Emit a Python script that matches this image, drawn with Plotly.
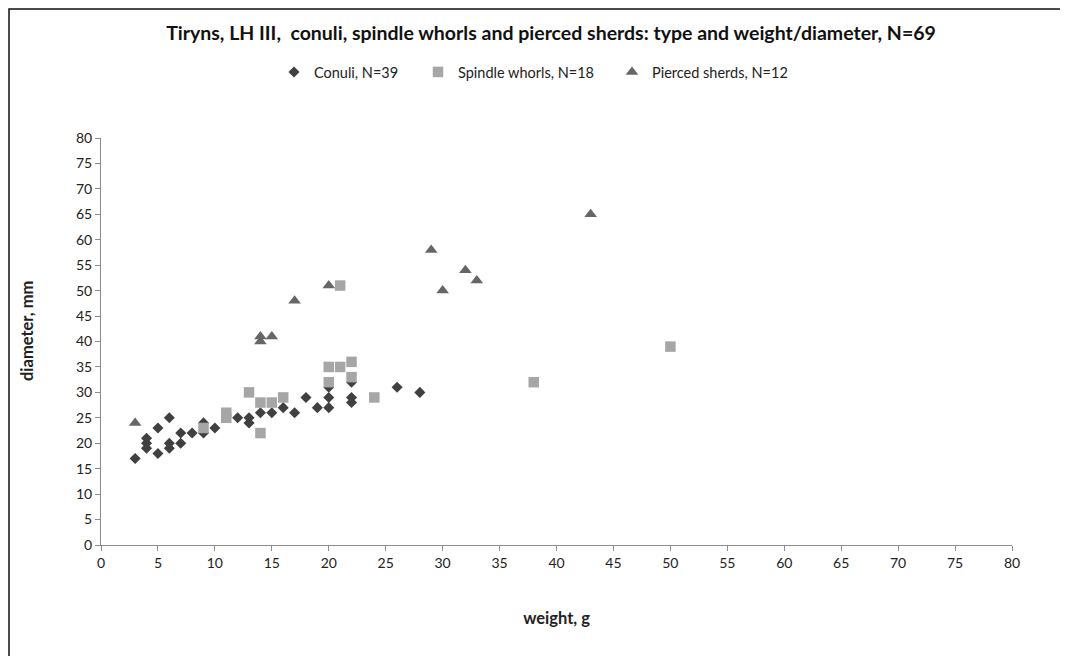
import plotly.graph_objects as go

# Conuli (diamonds)
conuli_w = [3, 4, 4, 4, 5, 5, 6, 6, 6, 7, 7, 8, 9, 9, 10, 12, 13, 13, 14, 15, 16, 17, 18, 19, 20, 20, 20, 22, 22, 22, 26, 28]
conuli_d = [17, 19, 20, 21, 18, 23, 19, 20, 25, 20, 22, 22, 22, 24, 23, 25, 24, 25, 26, 26, 27, 26, 29, 27, 27, 29, 31, 28, 29, 32, 31, 30]

# Spindle whorls (squares)
spindle_w = [9, 11, 11, 13, 14, 14, 15, 16, 20, 20, 21, 21, 22, 22, 24, 38, 50]
spindle_d = [23, 25, 26, 30, 22, 28, 28, 29, 32, 35, 35, 51, 33, 36, 29, 32, 39]

# Pierced sherds (triangles)
pierced_w = [3, 14, 14, 15, 17, 20, 29, 30, 32, 33, 43]
pierced_d = [24, 40, 41, 41, 48, 51, 58, 50, 54, 52, 65]

FONT = "Lato"
OFF = 8  # page body offset

W, H = 1068 - OFF, 656 - OFF
L, T = 101 - OFF, 138 - OFF
pw, ph = 911, 407
R, B = W - L - pw, H - T - ph

def px_x(p):
    return (p - OFF - L) / pw

def px_y(p):
    return (T + ph - (p - OFF)) / ph

fig = go.Figure()
fig.add_trace(go.Scatter(x=conuli_w, y=conuli_d, mode="markers", name="Conuli, N=39", legend="legend",
                         marker=dict(symbol="diamond", size=8.5, color="#404040")))
fig.add_trace(go.Scatter(x=spindle_w, y=spindle_d, mode="markers", name="Spindle whorls, N=18", legend="legend2",
                         marker=dict(symbol="square", size=10.5, color="#a6a6a6")))
fig.add_trace(go.Scatter(x=pierced_w, y=pierced_d, mode="markers", name="Pierced sherds, N=12", legend="legend3",
                         marker=dict(symbol="triangle-up", size=11, color="#666666")))

axis_common = dict(showgrid=False, zeroline=False, showline=True, linecolor="#8c8c8c", linewidth=1,
                   ticks="outside", ticklen=5, tickcolor="#8c8c8c",
                   tickfont=dict(family=FONT, size=14, color="#222"), dtick=5)

def leg(xpx):
    return dict(orientation="h", x=px_x(xpx), xanchor="left", y=px_y(72), yanchor="middle",
                font=dict(family=FONT, size=14.5, color="#222"), itemwidth=30,
                bgcolor="rgba(0,0,0,0)", borderwidth=0)

fig.update_layout(
    width=W, height=H,
    margin=dict(l=L, r=R, t=T, b=B),
    paper_bgcolor="white", plot_bgcolor="white",
    font=dict(family=FONT, color="#222"),
    title=dict(text="<b>Tiryns, LH III,\u00a0 conuli, spindle whorls and pierced sherds: type and weight/diameter, N=69</b>",
               x=px_x(551), xref="paper", xanchor="center", y=1 - (33 - OFF) / H, yanchor="middle",
               font=dict(family=FONT, size=19.5, color="#111")),
    legend=leg(274),
    legend2=leg(418),
    legend3=leg(612),
    xaxis=dict(range=[0, 80], title=dict(text="<b>weight, g</b>", font=dict(family=FONT, size=16.5, color="#222"), standoff=42),
               **axis_common),
    yaxis=dict(range=[0, 80], **axis_common),
    annotations=[dict(text="<b>diameter, mm</b>", xref="paper", yref="paper", x=px_x(27), y=px_y(331),
                      xanchor="center", yanchor="middle", textangle=-90, showarrow=False,
                      font=dict(family=FONT, size=16.5, color="#222"))],
    showlegend=True,
    shapes=[dict(type="rect", xref="paper", yref="paper",
                 x0=px_x(9), x1=px_x(1080), y0=px_y(670), y1=px_y(9),
                 line=dict(color="#111", width=1.5), fillcolor="rgba(0,0,0,0)", layer="below")],
)

fig.write_html("out.html")
